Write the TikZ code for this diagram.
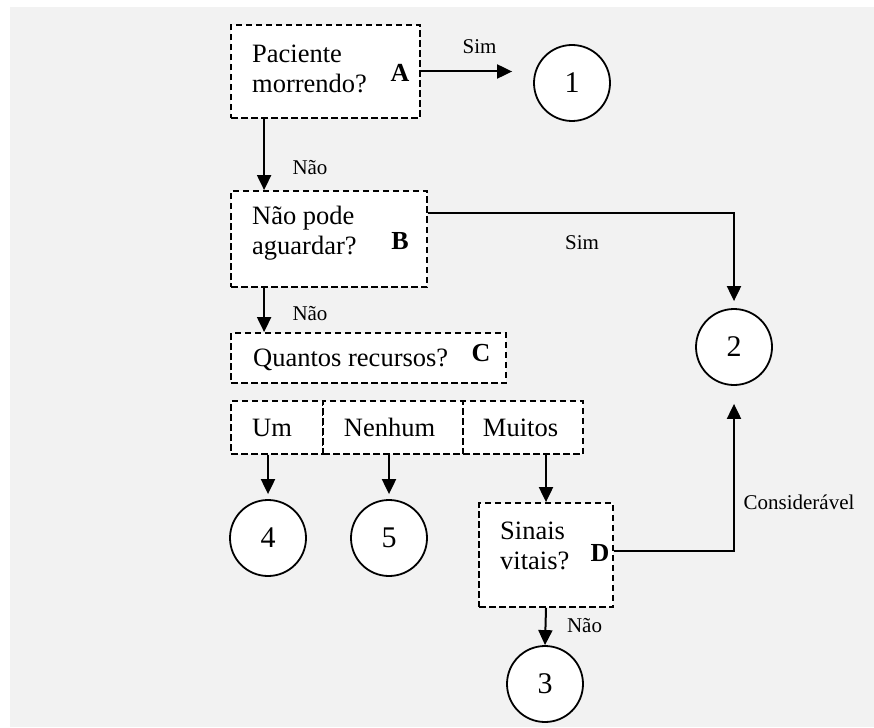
\documentclass[tikz,border=0pt]{standalone}
\usepackage{fontspec}
\setmainfont{Liberation Serif}
\usetikzlibrary{arrows.meta,calc}
\definecolor{bg}{HTML}{F2F2F2}
\begin{document}
\begin{tikzpicture}[x=1pt,y=-1pt,
 box/.style={draw, fill=white, line width=1.8pt, dash pattern=on 6.5pt off 3.5pt, inner sep=0pt, rectangle},
 circ/.style={draw, fill=white, circle, line width=1.8pt, minimum size=76pt, inner sep=0pt, font=\fontsize{30}{30}\selectfont},
 txt/.style={anchor=west, inner sep=0pt, align=left, font=\fontsize{26.5}{29.5}\selectfont},
 opt/.style={inner sep=0pt, text height=18pt, text depth=0pt, font=\fontsize{26.5}{29}\selectfont},
 lbl/.style={inner sep=0pt, text height=14pt, text depth=0pt, font=\fontsize{21}{21}\selectfont},
 letr/.style={inner sep=0pt, font=\fontsize{26}{26}\selectfont\bfseries},
 arr/.style={line width=2pt, -{Triangle[length=15pt,width=14pt]}},
 ln/.style={line width=2pt}]

\useasboundingbox (0,0) rectangle (874,727);
\fill[bg] (10,7) rectangle (874,727);

% boxes
\node[box, minimum width=189pt, minimum height=93pt] (A) at (325.5,71.5) {};
\node[box, minimum width=196pt, minimum height=96pt] (B) at (329,239) {};
\node[box, minimum width=275pt, minimum height=50pt] (C) at (368.5,358) {};
\node[box, minimum width=92pt, minimum height=53pt] (Um) at (277,427.5) {};
\node[box, minimum width=140pt, minimum height=53pt] (Nen) at (393,427.5) {};
\node[box, minimum width=120pt, minimum height=53pt] (Mui) at (523,427.5) {};
\node[box, minimum width=134pt, minimum height=104pt] (D) at (546,555) {};

% circles
\node[circ] (c1) at (572,83) {1};
\node[circ] (c2) at (734,347) {2};
\node[circ] (c3) at (545,684) {3};
\node[circ] (c4) at (268,538) {4};
\node[circ] (c5) at (389,538) {5};

% texts
\node[txt] (tA) at (252,69) {Paciente\\morrendo?};
\node[letr] (lA) at (400,73) {A};
\node[txt] (tB) at (252,233) {Não pode\\aguardar?};
\node[letr] (lB) at (400,241) {B};
\node[txt] (tC) at (253,360) {Quantos recursos?};
\node[letr] (lC) at (481,353) {C};
\node[opt] (tUm) at (272,427) {Um};
\node[opt] (tNen) at (389.5,427) {Nenhum};
\node[opt] (tMui) at (520.5,427) {Muitos};
\node[txt] (tD) at (500,546) {Sinais\\vitais?};
\node[letr] (lD) at (600,553) {D};

% labels
\node[lbl] (s1) at (479.5,47) {Sim};
\node[lbl] (n1) at (310,168) {Não};
\node[lbl] (s2) at (582,242) {Sim};
\node[lbl] (n2) at (310,313) {Não};
\node[lbl] (n3) at (584.5,625) {Não};
\node[lbl] (k1) at (799,502) {Considerável};

% connectors
\draw[arr, shorten >=21pt] (A.east) -- (A.east -| c1.west);
\draw[arr] ($(A.south west)+(34,0)$) -- ($(B.north west)+(34,0)$);
\draw[arr, shorten >=7pt] ($(B.north east)+(0,23)$) -| (c2.north);
\draw[arr] ($(B.south west)+(34,0)$) -- ($(C.north west)+(34,0)$);
\draw[arr, shorten >=5pt] (c4.north |- Um.south) -- (c4.north);
\draw[arr, shorten >=5pt] (c5.north |- Nen.south) -- (c5.north);
\draw[arr] (D.north |- Mui.south) -- (D.north);
\draw[arr] (D.south) -- (c3.north);
\draw[arr, shorten >=18pt] ($(D.east)+(0,-4)$) -| (c2.south);
\end{tikzpicture}
\end{document}
